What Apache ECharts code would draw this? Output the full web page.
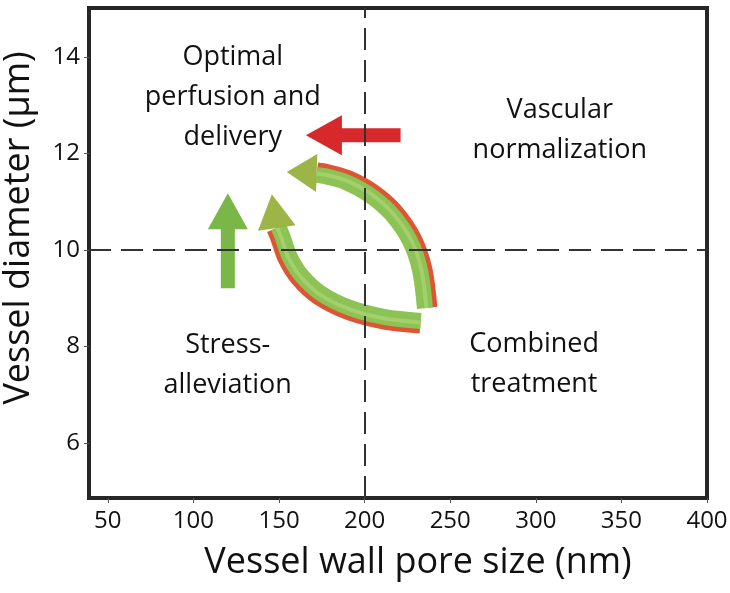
<!DOCTYPE html>
<html>
<head>
<meta charset="utf-8">
<script src="https://cdn.jsdelivr.net/npm/echarts@6/dist/echarts.min.js"></script>
<style>
html, body { margin: 0; background: #fff; }
#chart { width: 730px; height: 593px; }
</style>
</head>
<body>
<div id="chart"></div>
<script>
// axis ticks
const xTicks = [50, 100, 150, 200, 250, 300, 350, 400];
const yTicks = [6, 8, 10, 12, 14];
// quadrant split lines
const splitX = 200;
const splitY = 10;
// quadrant captions and where they sit (data coords)
const regionTexts = ['Optimal\nperfusion and\ndelivery', 'Vascular\nnormalization', 'Stress-\nalleviation', 'Combined\ntreatment'];
const regionPos = [[123, 13.17], [314, 12.49], [120, 7.62], [299, 7.64]];
// straight arrows: [tail, tip]
const redArrow = [[221, 12.38], [165.7, 12.38]];
const greenArrow = [[120.1, 9.21], [120.1, 11.18]];
// curved arrows: path points, last two are head base and tip
const curveUpper = [[236.4, 8.80], [233.5, 9.59], [227.5, 10.21], [216.5, 10.78], [203.5, 11.18], [189.5, 11.45], [177.5, 11.57], [172.0, 11.60], [154.5, 11.62]];
const curveLower = [[232.7, 8.49], [211.8, 8.57], [191.3, 8.76], [173.8, 9.07], [162.2, 9.45], [155.1, 9.85], [151.1, 10.25], [148.7, 10.46], [145.8, 11.16]];

const straightArrows = [redArrow, greenArrow];
const straightColors = ['#d7282b', '#7ab648'];
const curves = [curveUpper, curveLower];
const curveSides = [1, -1]; // which side the red edge is on

const font = '"Open Sans", "Noto Sans", sans-serif';

function shift(pts, d) {
    return pts.map((p, i) => {
        const a = pts[Math.max(i - 1, 0)];
        const b = pts[Math.min(i + 1, pts.length - 1)];
        let tx = b[0] - a[0], ty = b[1] - a[1];
        const len = Math.hypot(tx, ty) || 1;
        tx /= len; ty /= len;
        return [p[0] - ty * d, p[1] + tx * d];
    });
}

function arrowHead(base, tip, width) {
    let dx = tip[0] - base[0], dy = tip[1] - base[1];
    const len = Math.hypot(dx, dy) || 1;
    const nx = -dy / len, ny = dx / len;
    return [
        tip,
        [base[0] + nx * width / 2, base[1] + ny * width / 2],
        [base[0] - nx * width / 2, base[1] - ny * width / 2]
    ];
}

function renderStraight(params, api) {
    const tail = api.coord(straightArrows[params.dataIndex][0]);
    const tip = api.coord(straightArrows[params.dataIndex][1]);
    let dx = tip[0] - tail[0], dy = tip[1] - tail[1];
    const len = Math.hypot(dx, dy);
    dx /= len; dy /= len;
    const nx = -dy, ny = dx;
    const headLen = 36, headW = 40, shaftW = 14;
    const bx = tip[0] - dx * headLen, by = tip[1] - dy * headLen;
    const pts = [
        [tail[0] + nx * shaftW / 2, tail[1] + ny * shaftW / 2],
        [bx + nx * shaftW / 2, by + ny * shaftW / 2],
        [bx + nx * headW / 2, by + ny * headW / 2],
        tip,
        [bx - nx * headW / 2, by - ny * headW / 2],
        [bx - nx * shaftW / 2, by - ny * shaftW / 2],
        [tail[0] - nx * shaftW / 2, tail[1] - ny * shaftW / 2]
    ];
    return {
        type: 'polygon',
        shape: { points: pts },
        style: { fill: straightColors[params.dataIndex] }
    };
}

function renderCurve(params, api) {
    const pts = curves[params.dataIndex].map(p => api.coord(p));
    const side = curveSides[params.dataIndex];
    const tip = pts[pts.length - 1];
    const band = pts.slice(0, -1);
    const base = band[band.length - 1];
    return {
        type: 'group',
        children: [
            {
                type: 'polyline',
                shape: { points: shift(band, side * 4), smooth: 0.3 },
                style: { stroke: '#dc5634', lineWidth: 13, fill: null, lineCap: 'butt' }
            },
            {
                type: 'polyline',
                shape: { points: shift(band, -side * 2), smooth: 0.3 },
                style: { stroke: '#8dc255', lineWidth: 16, fill: null, lineCap: 'butt' }
            },
            {
                type: 'polyline',
                shape: { points: shift(band, -side * 0.5), smooth: 0.3 },
                style: { stroke: '#a3cf6d', lineWidth: 4, fill: null, lineCap: 'butt' }
            },
            {
                type: 'polygon',
                shape: { points: arrowHead(base, tip, 38) },
                style: { fill: '#9db546' }
            }
        ]
    };
}

function renderText(params, api) {
    const p = api.coord(regionPos[params.dataIndex]);
    return {
        type: 'text',
        x: p[0],
        y: p[1],
        style: {
            text: regionTexts[params.dataIndex],
            align: 'center',
            verticalAlign: 'middle',
            fontSize: 27,
            lineHeight: 40,
            fontFamily: font,
            fill: '#111'
        }
    };
}

const chart = echarts.init(document.getElementById('chart'));
chart.setOption({
    backgroundColor: '#fff',
    animation: false,
    grid: {
        left: 89, right: 23, top: 8, bottom: 95,
        outerBoundsMode: 'none',
        show: true,
        borderColor: '#262626',
        borderWidth: 4
    },
    xAxis: {
        type: 'value',
        min: 39,
        max: 400,
        name: 'Vessel wall pore size (nm)',
        nameLocation: 'middle',
        nameGap: 47,
        nameTextStyle: { fontSize: 36, fontFamily: font, color: '#111', padding: [0, 0, 0, 40] },
        axisLine: { show: false },
        axisTick: { show: true, customValues: xTicks, length: 5, lineStyle: { color: '#555' } },
        axisLabel: { customValues: xTicks, fontSize: 24, fontFamily: font, color: '#111', margin: 11 },
        splitLine: { show: false }
    },
    yAxis: {
        type: 'value',
        min: 4.86,
        max: 15.02,
        name: 'Vessel diameter (µm)',
        nameLocation: 'middle',
        nameGap: 52,
        nameTextStyle: { fontSize: 36, fontFamily: font, color: '#111', padding: [0, 0, 0, 50] },
        axisLine: { show: false },
        axisTick: { show: true, customValues: yTicks, length: 5, lineStyle: { color: '#555' } },
        axisLabel: { customValues: yTicks, fontSize: 24, fontFamily: font, color: '#111', margin: 9 },
        splitLine: { show: false }
    },
    series: [
        {
            type: 'line',
            data: [],
            markLine: {
                silent: true,
                symbol: 'none',
                label: { show: false },
                lineStyle: { color: '#333', width: 2, type: [22, 10] },
                data: [{ xAxis: splitX }, { yAxis: splitY }]
            }
        },
        {
            type: 'custom',
            renderItem: renderStraight,
            data: straightArrows.map((a, i) => [a[1][0], a[1][1], i]),
            z: 3
        },
        {
            type: 'custom',
            renderItem: renderCurve,
            data: curves.map((c, i) => [c[0][0], c[0][1], i]),
            z: 3
        },
        {
            type: 'custom',
            renderItem: renderText,
            data: regionPos,
            z: 4
        }
    ]
});
</script>
</body>
</html>
